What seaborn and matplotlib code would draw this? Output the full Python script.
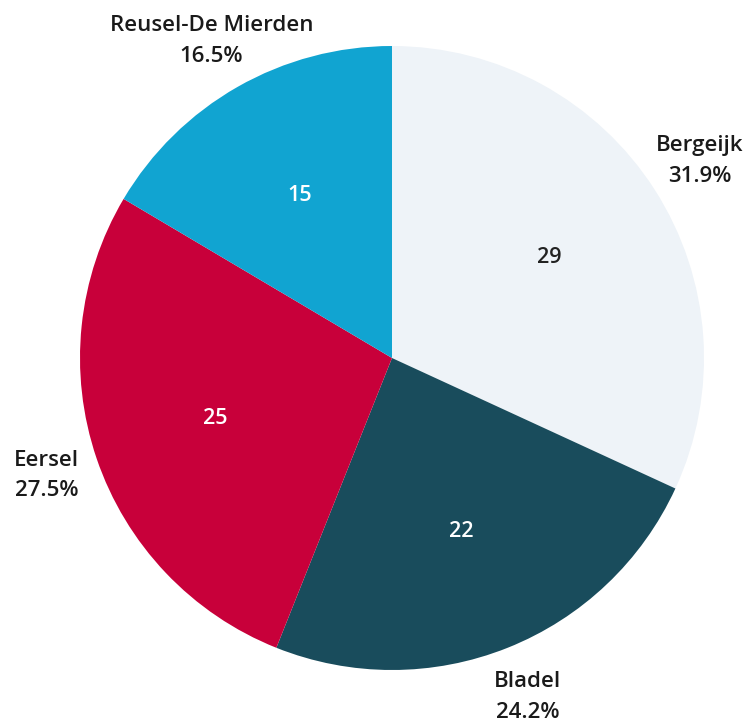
import matplotlib
matplotlib.use("Agg")
import matplotlib.pyplot as plt
import seaborn as sns

regions = ["Bergeijk", "Bladel", "Eersel", "Reusel-De Mierden"]
counts = [29, 22, 25, 15]
colors = ["#eef3f8", "#194c5c", "#c8003a", "#11a4d1"]
inner_text_colors = ["#222222", "white", "white", "white"]

sns.set_theme(style="white")
plt.rcParams['font.family'] = ['Open Sans', 'DejaVu Sans']

total = sum(counts)
labels = [f"{r}\n{c / total * 100:.1f}%" for r, c in zip(regions, counts)]

fig = plt.figure(figsize=(7.55, 7.23), dpi=100)
ax = fig.add_axes([0, 0, 1, 1])

wedges, texts, autotexts = ax.pie(
    counts,
    labels=labels,
    colors=colors,
    startangle=90,
    counterclock=False,
    autopct=lambda p: f"{p * total / 100:.0f}",
    pctdistance=0.6,
    labeldistance=1.17,
    textprops={"fontsize": 16, "color": "#1a1a1a", "fontweight": "semibold"},
    wedgeprops={"linewidth": 0},
)

for t in texts:
    t.set_ha("center")
    t.set_va("center")
    t.set_linespacing(1.6)

for t, c in zip(autotexts, inner_text_colors):
    t.set_color(c)
    t.set_fontsize(15.5)
    t.set_fontweight("semibold")

# map data units to pixels: radius 312 px, centre at (392, 358) from top-left
r_px = 312
cx, cy = 392, 358
ax.set_aspect("auto")
ax.set_xlim(-cx / r_px, (755 - cx) / r_px)
ax.set_ylim(-(723 - cy) / r_px, cy / r_px)
ax.axis("off")

fig.savefig("out.png", dpi=100, facecolor="white")
